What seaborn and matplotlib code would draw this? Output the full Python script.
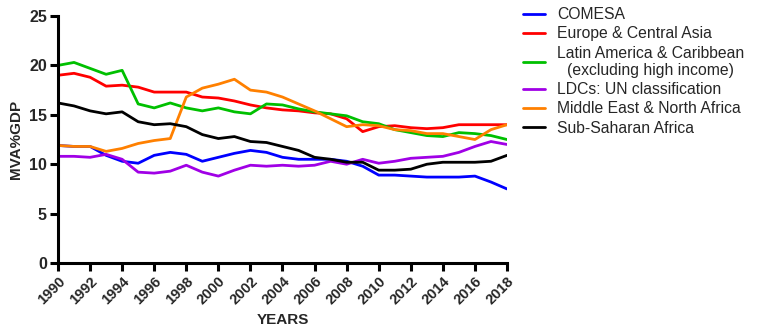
import numpy as np
import pandas as pd
import matplotlib
matplotlib.use("Agg")
import matplotlib.pyplot as plt
import seaborn as sns

years = list(range(1990, 2019))

comesa = [11.9, 11.8, 11.8, 10.9, 10.3, 10.1, 10.9, 11.2, 11.0, 10.3, 10.7, 11.1, 11.4, 11.2,
          10.7, 10.5, 10.5, 10.5, 10.3, 9.8, 8.9, 8.9, 8.8, 8.7, 8.7, 8.7, 8.8, 8.2, 7.5]
europe = [19.0, 19.2, 18.8, 17.9, 18.0, 17.8, 17.3, 17.3, 17.3, 16.8, 16.7, 16.4, 16.0, 15.7,
          15.5, 15.4, 15.2, 15.1, 14.6, 13.3, 13.8, 13.9, 13.7, 13.6, 13.7, 14.0, 14.0, 14.0, 14.0]
latam = [20.0, 20.3, 19.7, 19.1, 19.5, 16.1, 15.7, 16.2, 15.7, 15.4, 15.7, 15.3, 15.1, 16.1,
         16.0, 15.6, 15.3, 15.1, 14.9, 14.3, 14.1, 13.5, 13.2, 12.9, 12.8, 13.2, 13.1, 12.9, 12.5]
ldcs = [10.8, 10.8, 10.7, 11.0, 10.5, 9.2, 9.1, 9.3, 9.9, 9.2, 8.8, 9.4, 9.9, 9.8,
        9.9, 9.8, 9.9, 10.3, 10.0, 10.5, 10.1, 10.3, 10.6, 10.7, 10.8, 11.2, 11.8, 12.3, 12.0]
mena = [11.9, 11.8, 11.8, 11.3, 11.6, 12.1, 12.4, 12.6, 16.8, 17.7, 18.1, 18.6, 17.5, 17.3,
        16.8, 16.1, 15.4, 14.6, 13.8, 14.0, 13.9, 13.5, 13.4, 13.1, 13.1, 12.8, 12.5, 13.5, 14.0]
ssa = [16.2, 15.9, 15.4, 15.1, 15.3, 14.3, 14.0, 14.1, 13.8, 13.0, 12.6, 12.8, 12.3, 12.2,
       11.8, 11.4, 10.7, 10.5, 10.2, 10.2, 9.4, 9.4, 9.5, 10.0, 10.2, 10.2, 10.2, 10.3, 10.9]

series_names = ["COMESA", "Europe & Central Asia",
                "Latin America & Caribbean\n(excluding high income)",
                "LDCs: UN classification", "Middle East & North Africa",
                "Sub-Saharan Africa"]
series_values = [comesa, europe, latam, ldcs, mena, ssa]
colors = ["#0000ff", "#ff0000", "#00c000", "#a000e6", "#ff8000", "#000000"]

x_ticks = list(range(1990, 2019, 2))
y_ticks = [0, 5, 10, 15, 20, 25]

rows = []
for name, vals in zip(series_names, series_values):
    for y, v in zip(years, vals):
        rows.append({"Year": y, "Value": v, "Series": name})
df = pd.DataFrame(rows)

sns.set_theme(style="ticks")
plt.rcParams["font.family"] = ["Liberation Sans", "DejaVu Sans"]

fig = plt.figure(figsize=(7.59, 3.33), dpi=100)
ax = fig.add_axes([0.0764, 0.210, 0.5916, 0.742])

sns.lineplot(data=df, x="Year", y="Value", hue="Series", hue_order=series_names,
             palette=colors, linewidth=2.0, ax=ax, legend=True)

ax.set_xlim(1990, 2018)
ax.set_ylim(0, 25)
ax.set_xticks(x_ticks)
ax.set_yticks(y_ticks)
ax.set_xticklabels([str(y) for y in x_ticks], rotation=45,
                   ha="right", rotation_mode="anchor", fontsize=10.5, fontweight="bold")
ax.set_yticklabels([str(v) for v in y_ticks], fontsize=11.5, fontweight="bold")
ax.set_xlabel("YEARS", fontsize=11, fontweight="bold", labelpad=4)
ax.set_ylabel("MVA%GDP", fontsize=11, fontweight="bold", labelpad=4)

for s in ["top", "right"]:
    ax.spines[s].set_visible(False)
for s in ["left", "bottom"]:
    ax.spines[s].set_linewidth(2.2)
    ax.spines[s].set_color("black")
ax.tick_params(axis="both", width=2.2, length=6, color="black", direction="out", pad=2)

handles, labels = ax.get_legend_handles_labels()
leg = ax.legend(handles, labels, loc="upper left", bbox_to_anchor=(1.005, 1.093),
                frameon=False, fontsize=11.3, handlelength=1.4, handletextpad=0.75,
                labelspacing=0.27)
for t in leg.get_texts():
    t.set_multialignment("center")
for l in leg.get_lines():
    l.set_linewidth(2)

fig.savefig("out.png", dpi=100)
